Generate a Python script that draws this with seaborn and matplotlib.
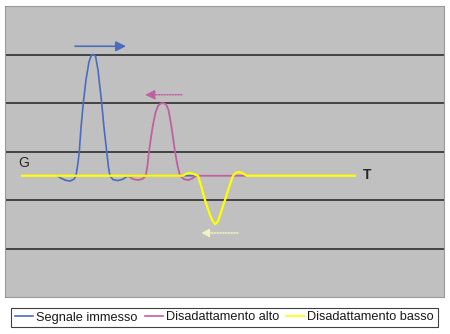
import matplotlib
matplotlib.use("Agg")
import matplotlib.pyplot as plt
import seaborn as sns
import pandas as pd

# ---- data (time in px-like units, amplitude in grid units) ----
series_names = ["Segnale immesso", "Disadattamento alto", "Disadattamento basso"]
series_colors = ["#4a6cc0", "#c060a0", "#ffff00"]

blue_x = [52, 56, 60, 65, 69, 71, 73, 74.3, 76, 78.3, 81, 84, 86.5, 88.3, 90.5,
          93, 95, 96.7, 99, 101.7, 103.5, 105, 108, 113, 118, 123, 150, 192]
blue_y = [-0.50, -0.55, -0.59, -0.61, -0.57, -0.50, -0.23, 0.00, 0.49, 1.00, 1.48,
          1.85, 1.99, 2.00, 1.97, 1.68, 1.31, 1.00, 0.49, 0.00, -0.33, -0.50,
          -0.58, -0.60, -0.57, -0.50, -0.50, -0.50]

pink_x = [123, 128, 133.3, 138, 140.7, 142.5, 144, 146, 148, 150.5, 153, 155.5,
          158.3, 161, 163.5, 166, 168, 170, 172.5, 175, 179, 183.3, 187, 191, 241]
pink_y = [-0.50, -0.57, -0.59, -0.56, -0.50, -0.29, 0.00, 0.29, 0.55, 0.80, 0.94,
          0.99, 1.00, 0.97, 0.86, 0.57, 0.29, 0.00, -0.29, -0.50, -0.57, -0.59,
          -0.56, -0.50, -0.50]

yellow_x = [17, 178, 181, 185, 188, 193, 196, 200, 204, 207, 210, 213, 216, 220,
            224, 228, 231, 234.3, 238, 241.7, 350]
yellow_y = [-0.50, -0.50, -0.46, -0.44, -0.46, -0.50, -0.70, -1.00, -1.25, -1.41,
            -1.50, -1.44, -1.25, -1.00, -0.74, -0.50, -0.44, -0.42, -0.45, -0.50, -0.50]

# arrows: (x_start, x_end, y)
arrow_blue = (70, 121, 2.17)
arrow_pink = (177, 140, 1.17)
arrow_yellow = (233, 196, -1.68)

label_G = ("G", 19, -0.23)
label_T = ("T", 362, -0.49)

# ---- figure ----
fig = plt.figure(figsize=(4.5, 3.34), dpi=100)
fig.patch.set_facecolor("white")
ax = fig.add_axes([5 / 450, 1 - 297 / 334, 439 / 450, 291 / 334])
ax.set_facecolor("#c0c0c0")

xs = [blue_x, pink_x, yellow_x]
ys = [blue_y, pink_y, yellow_y]
widths = [1.2, 1.3, 1.6]
for name, col, x, y, lw in zip(series_names, series_colors, xs, ys, widths):
    df = pd.DataFrame({"t": x, "v": y})
    sns.lineplot(data=df, x="t", y="v", ax=ax, color=col, lw=lw, label=name,
                 sort=False, estimator=None, zorder=3)

ax.set_xlim(0, 439)
ax.set_ylim(-3, 3)
ax.set_yticks([-2, -1, 0, 1, 2])
ax.set_xticks([])
ax.yaxis.grid(True, color="#2e2e2e", lw=1.2)
ax.set_axisbelow(True)
ax.tick_params(left=False, labelleft=False, bottom=False, labelbottom=False)
ax.set_xlabel("")
ax.set_ylabel("")
for s in ax.spines.values():
    s.set_color("#9a9a9a")
    s.set_linewidth(0.8)

# arrows
ax.annotate("", xy=(arrow_blue[1], arrow_blue[2]), xytext=(arrow_blue[0], arrow_blue[2]),
            arrowprops=dict(arrowstyle="-|>,head_length=0.6,head_width=0.3",
                            color=series_colors[0], lw=1.2, shrinkA=0, shrinkB=0))
ax.annotate("", xy=(arrow_pink[1], arrow_pink[2]), xytext=(arrow_pink[0], arrow_pink[2]),
            arrowprops=dict(arrowstyle="-|>,head_length=0.6,head_width=0.3",
                            color=series_colors[1], lw=1.0, ls=(0, (1, 1)),
                            shrinkA=0, shrinkB=0))
ax.annotate("", xy=(arrow_yellow[1], arrow_yellow[2]), xytext=(arrow_yellow[0], arrow_yellow[2]),
            arrowprops=dict(arrowstyle="-|>,head_length=0.5,head_width=0.25",
                            color="#f4f4c0", lw=1.0, ls=(0, (1, 1)),
                            shrinkA=0, shrinkB=0))

for txt, x, y in (label_G, label_T):
    ax.text(x, y, txt, ha="center", va="center", fontsize=10, color="#262626",
            family=["Liberation Sans", "DejaVu Sans"], fontweight="bold" if txt == "T" else "normal")

handles, labels = ax.get_legend_handles_labels()
ax.get_legend().remove()
leg = fig.legend(handles, labels, loc="center", ncol=3,
                 bbox_to_anchor=(224.5 / 450, 1 - 317.5 / 334),
                 prop={"family": ["Liberation Sans", "DejaVu Sans"], "size": 9.2},
                 frameon=True, fancybox=False, edgecolor="#404040", framealpha=1,
                 handlelength=1.4, handletextpad=0.25, columnspacing=0.55,
                 borderpad=0.3, borderaxespad=0)
leg.get_frame().set_linewidth(0.8)
for t in leg.get_texts():
    t.set_color("#1a1a1a")
for line in leg.get_lines():
    line.set_linewidth(1.2)

fig.savefig("out.png", dpi=100, facecolor="white")
